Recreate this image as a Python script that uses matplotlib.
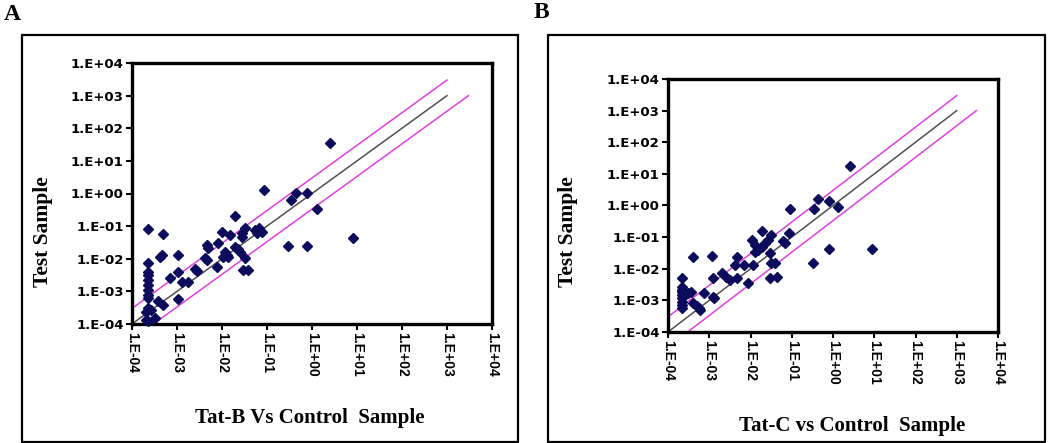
import numpy as np
import matplotlib
matplotlib.use('Agg')
import matplotlib.pyplot as plt
from matplotlib.patches import Rectangle
from matplotlib.ticker import FixedLocator, NullLocator

# panel A: Tat-B vs control
tat_b_x = [2.3e-4, 5.0e-4, 4.2e-4, 4.6e-4, 2.3e-4, 1.07e-3, 1.07e-3, 6.9e-4, 1.26e-3, 1.8e-3,
           2.5e-3, 2.75e-3, 1.07e-3, 3.8e-4, 5.0e-4,
           2.3e-4, 2.3e-4, 2.3e-4, 2.3e-4, 2.3e-4, 2.3e-4, 2.3e-4,
           2.3e-4, 2.7e-4, 2.1e-4, 2.1e-4, 3.2e-4, 2.3e-4,
           4.6e-3, 5.0e-3, 4.2e-3, 4.6e-3, 8.3e-3, 7.6e-3, 9.8e-3, 0.015, 0.0195, 0.0117,
           0.0126, 0.0107, 0.0138, 0.0195, 0.023, 0.025, 0.032, 0.0275, 0.032, 0.0275,
           0.0295, 0.038, 0.054, 0.065, 0.076, 0.059,
           0.085, 0.44, 0.79, 0.35, 1.26, 0.30, 0.76, 8.3, 2.5]
tat_b_y = [0.079, 0.056, 0.0115, 0.013, 0.0076, 0.013, 0.004, 0.0025, 0.002, 0.002,
           0.0048, 0.0043, 5.8e-4, 5.2e-4, 3.8e-4,
           4.0e-3, 3.2e-3, 2.2e-3, 1.6e-3, 1.1e-3, 7.8e-4, 6.2e-4,
           3.0e-4, 2.7e-4, 2.4e-4, 1.3e-4, 1.5e-4, 1.2e-4,
           0.026, 0.022, 0.0102, 0.0091, 0.0295, 0.0055, 0.068, 0.054, 0.2, 0.0166,
           0.013, 0.0115, 0.0115, 0.023, 0.0195, 0.0166, 0.0102, 0.06, 0.087, 0.048,
           0.0046, 0.0046, 0.076, 0.087, 0.068, 0.06,
           1.29, 1.07, 1.07, 0.63, 0.33, 0.025, 0.025, 0.043, 35]

# panel B: Tat-C vs control
tat_c_x = [2.6, 0.091, 0.44, 0.79, 0.35, 1.3, 0.78, 8.7, 0.32, 0.085, 0.0195, 0.06, 0.069,
           0.0107, 0.0129, 0.032, 0.027, 0.022, 0.0186, 0.0155, 0.0129, 0.0295, 0.032, 0.039,
           0.0295, 0.044, 4.6e-3, 4.2e-3, 6.8e-3, 0.0117, 4.6e-3, 8.9e-3, 3.2e-3,
           4.1e-4, 1.15e-3, 2.2e-4,
           2.2e-4, 2.2e-4, 2.2e-4, 2.2e-4, 2.2e-4, 2.2e-4, 2.2e-4, 2.2e-4,
           3.1e-4, 3.7e-4, 4.1e-4, 5.0e-4, 5.5e-4, 6.0e-4, 7.4e-4, 1.2e-3, 1.32e-3,
           1.2e-3, 2.0e-3, 2.6e-3]
tat_c_y = [18, 0.78, 1.6, 1.4, 0.78, 0.89, 0.042, 0.042, 0.015, 0.14, 0.16, 0.078, 0.065,
           0.081, 0.056, 0.117, 0.081, 0.065, 0.05, 0.039, 0.035, 0.032, 0.0155, 0.0148,
           0.005, 0.0056, 0.024, 0.0132, 0.0132, 0.0132, 0.005, 3.6e-3, 4.5e-3,
           0.023, 0.026, 5.0e-3,
           2.7e-3, 2.1e-3, 1.9e-3, 1.5e-3, 1.17e-3, 9.1e-4, 7.1e-4, 5.6e-4,
           1.66e-3, 1.9e-3, 8.1e-4, 6.6e-4, 5.6e-4, 5.0e-4, 1.66e-3, 1.32e-3, 1.17e-3,
           5.0e-3, 7.6e-3, 5.6e-3]

# reference lines: identity and 3-fold bounds
fold = 3
line_x = np.array([1e-4, 1e3])
lower_x = line_x * fold
decades = list(range(-4, 5))

W, H = 1050, 443
fig = plt.figure(figsize=(W / 100, H / 100), dpi=100)


def fx(px):
    return px / W


def fy(py):
    return 1 - py / H


def panel(box, ax_box, xs, ys, xlabel, xlab_pos, ylab_pos, letter, letter_pos):
    fig.patches.append(Rectangle((fx(box[0]), fy(box[3])), fx(box[2] - box[0]),
                                 (box[3] - box[1]) / H, transform=fig.transFigure,
                                 fill=False, ec='black', lw=1.6))
    l, t, r, b = ax_box
    ax = fig.add_axes([fx(l), fy(b), fx(r - l), (b - t) / H])
    ax.set_xscale('log')
    ax.set_yscale('log')
    ax.set_xlim(1e-4, 1e4)
    ax.set_ylim(1e-4, 1e4)

    ax.plot(line_x, line_x, color='#505050', lw=1.1, zorder=2, clip_on=False)
    ax.plot(line_x, line_x * fold, color='#e040e0', lw=1.1, zorder=2, clip_on=False)
    ax.plot(lower_x, lower_x / fold, color='#e040e0', lw=1.1, zorder=2, clip_on=False)
    ax.plot(xs, ys, 'D', color='#0c0c5c', ms=5, zorder=3, clip_on=False)

    ticks = [10.0 ** k for k in decades]
    labels = ['1.E%+03d' % k for k in decades]
    ax.xaxis.set_major_locator(FixedLocator(ticks))
    ax.yaxis.set_major_locator(FixedLocator(ticks))
    ax.xaxis.set_minor_locator(NullLocator())
    ax.yaxis.set_minor_locator(NullLocator())
    ax.set_xticklabels(labels, rotation=-90, fontsize=10, fontweight='bold',
                       family='Liberation Sans')
    ax.set_yticklabels(labels, fontsize=9.5, fontweight='bold', family='DejaVu Sans')
    ax.tick_params(direction='out', length=4, width=1.5, pad=2)
    for s in ax.spines.values():
        s.set_linewidth(2.4)

    fig.text(fx(xlab_pos[0]), fy(xlab_pos[1]), xlabel, ha='center', va='center',
             fontsize=15, fontweight='bold', family='Liberation Serif')
    fig.text(fx(ylab_pos[0]), fy(ylab_pos[1]), 'Test Sample', ha='center', va='center',
             rotation=90, fontsize=15.5, fontweight='bold', family='Liberation Serif')
    fig.text(fx(letter_pos[0]), fy(letter_pos[1]), letter, ha='center', va='center',
             fontsize=17, fontweight='bold', family='Liberation Serif')
    return ax


panel((22, 35, 518, 442), (132, 63, 492, 324), tat_b_x, tat_b_y,
      'Tat-B Vs Control  Sample', (310, 418), (43, 232), 'A', (12, 15))
panel((548, 35, 1045, 442), (668, 79, 998, 332), tat_c_x, tat_c_y,
      'Tat-C vs Control  Sample', (852, 426), (568, 232), 'B', (541, 12))

fig.savefig('out.png', dpi=100)
